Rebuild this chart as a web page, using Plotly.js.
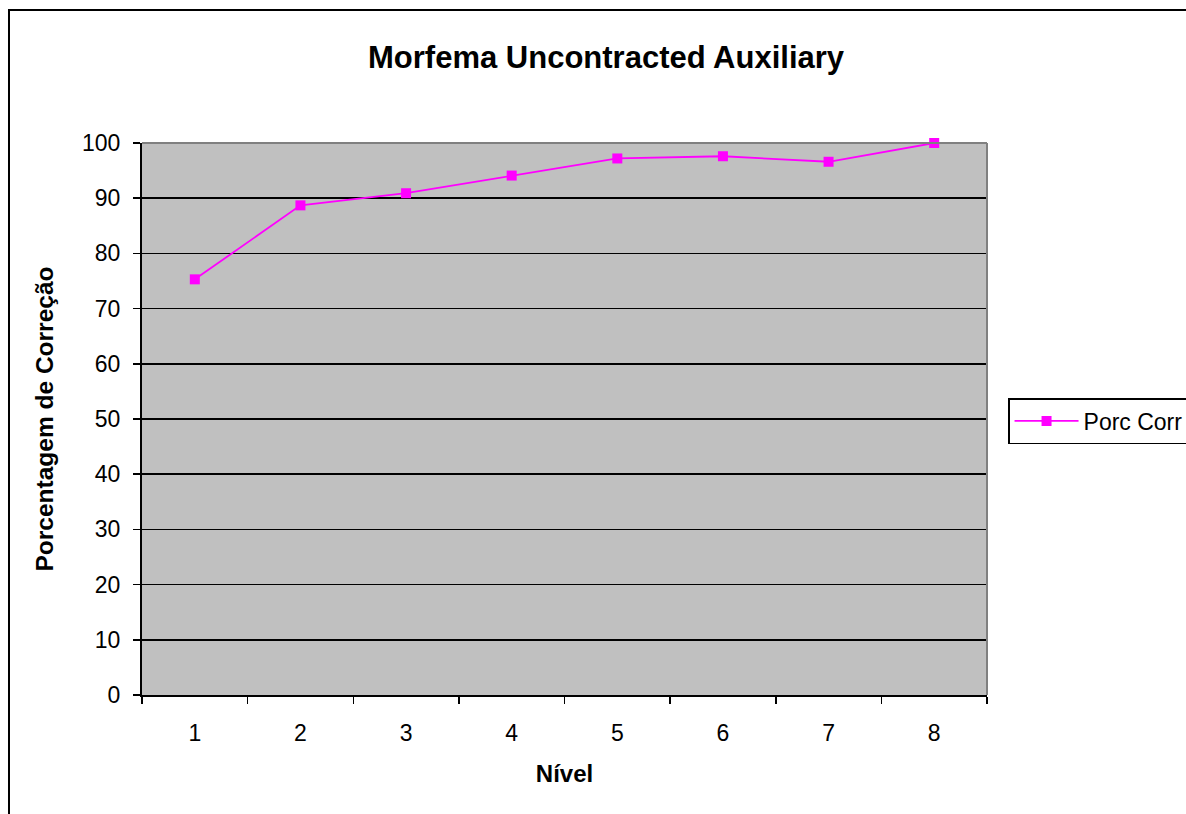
<!DOCTYPE html>
<html>
<head>
<meta charset="utf-8">
<script src="https://cdn.plot.ly/plotly-3.0.1.min.js"></script>
<style>
  html, body { margin: 0; padding: 0; background: #ffffff; }
  #chart { width: 1186px; height: 814px; }
</style>
</head>
<body>
<div id="chart"></div>
<script>
// Nível (level) categories and percentage of correct use per level
const niveis = [1, 2, 3, 4, 5, 6, 7, 8];
const porcCorr = [75.3, 88.7, 90.9, 94.1, 97.2, 97.6, 96.6, 100];
const yTicks = [0, 10, 20, 30, 40, 50, 60, 70, 80, 90, 100];
const seriesName = 'Porc Corr';

const FONT = 'Liberation Sans, Arial, sans-serif';

const trace = {
  x: niveis,
  y: porcCorr,
  type: 'scatter',
  mode: 'lines+markers',
  name: seriesName,
  line: { color: '#FF00FF', width: 1.8 },
  marker: { symbol: 'square', size: 10, color: '#FF00FF' },
  cliponaxis: false
};

// category boundaries for the tick marks between levels
const boundaries = niveis.map(v => v - 0.5).concat([niveis[niveis.length - 1] + 0.5]);

const layout = {
  width: 1186,
  height: 814,
  paper_bgcolor: '#ffffff',
  plot_bgcolor: '#C0C0C0',
  margin: { l: 142, r: 199, t: 143, b: 119, pad: 0, autoexpand: false },
  font: { family: FONT, color: '#000000', size: 22 },
  title: {
    text: '<b>Morfema Uncontracted Auxiliary</b>',
    font: { family: FONT, size: 31, color: '#000000' },
    x: 0.511, xanchor: 'center', xref: 'container',
    y: 0.93, yanchor: 'middle', yref: 'container'
  },
  xaxis: {
    range: [0.5, 8.5],
    tickvals: niveis,
    ticktext: niveis.map(String),
    ticks: '',
    showgrid: false,
    zeroline: false,
    showline: true,
    linecolor: '#000000',
    linewidth: 1.5,
    mirror: false,
    tickfont: { family: FONT, size: 23 },
    ticklabelstandoff: 17,
    minor: {
      tickvals: boundaries,
      ticks: 'outside',
      ticklen: 7,
      tickwidth: 1.5,
      tickcolor: '#000000',
      showgrid: false
    },
    title: {
      text: '<b>Nível</b>',
      font: { family: FONT, size: 24 },
      standoff: 20
    },
    fixedrange: true
  },
  yaxis: {
    range: [0, 100],
    tickvals: yTicks,
    ticktext: yTicks.map(String),
    ticks: 'outside',
    ticklen: 7,
    tickwidth: 1.5,
    tickcolor: '#000000',
    showgrid: true,
    gridcolor: '#000000',
    gridwidth: 1.5,
    zeroline: false,
    showline: true,
    linecolor: '#000000',
    linewidth: 2,
    tickfont: { family: FONT, size: 23 },
    ticklabelstandoff: 8,
    title: {
      text: '<b>Porcentagem de Correção</b>',
      font: { family: FONT, size: 24.5 },
      standoff: 21
    },
    fixedrange: true
  },
  showlegend: true,
  legend: {
    x: 1.0249, xanchor: 'left',
    y: 0.538, yanchor: 'top',
    bgcolor: '#ffffff',
    bordercolor: '#000000',
    borderwidth: 1.5,
    font: { family: FONT, size: 23 },
    itemwidth: 64,
    tracegroupgap: 0
  },
  shapes: [
    // gray frame on the top and right of the plot area
    { type: 'line', xref: 'paper', yref: 'paper', x0: 0, x1: 1, y0: 1, y1: 1,
      line: { color: '#808080', width: 2 } },
    { type: 'line', xref: 'paper', yref: 'paper', x0: 1, x1: 1, y0: 0, y1: 1,
      line: { color: '#808080', width: 2 } },
    // outer chart border
    { type: 'rect', xref: 'paper', yref: 'paper',
      x0: -0.1574, x1: 1.4, y0: -0.5, y1: 1.2409,
      line: { color: '#000000', width: 2 }, fillcolor: 'rgba(0,0,0,0)', layer: 'below' }
  ]
};

Plotly.newPlot('chart', [trace], layout, { displayModeBar: false, staticPlot: true });
</script>
</body>
</html>
